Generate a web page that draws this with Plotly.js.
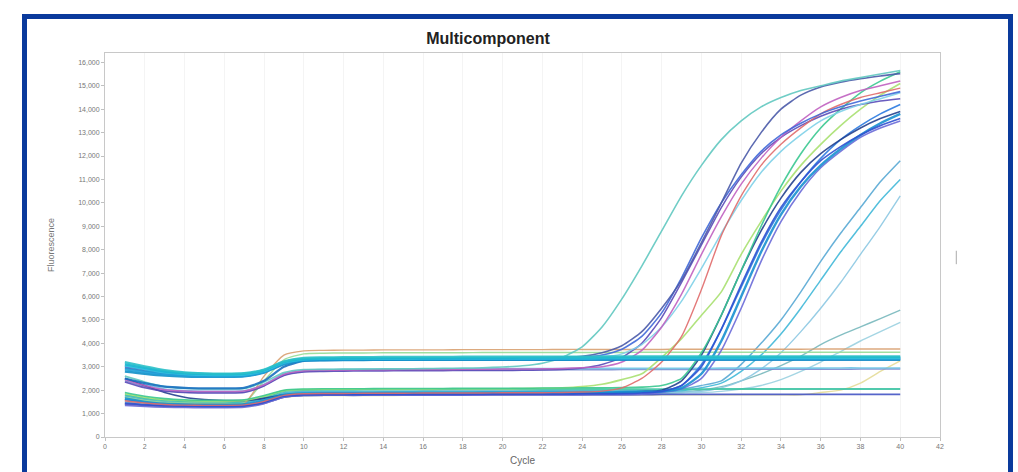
<!DOCTYPE html>
<html>
<head>
<meta charset="utf-8">
<script src="https://cdn.plot.ly/plotly-3.0.1.min.js"></script>
<style>
html,body{margin:0;padding:0;background:#fff;width:1018px;height:472px;overflow:hidden;}
#frame{position:absolute;left:22px;top:14px;width:981px;height:470px;border:5px solid #0a3a9c;box-sizing:content-box;}
#chart{position:absolute;left:0;top:0;width:1018px;height:472px;}
</style>
</head>
<body>
<div id="frame"></div>
<div id="chart"></div>
<script>
const cycles = [1,2,3,4,5,6,7,8,9,10,11,12,13,14,15,16,17,18,19,20,21,22,23,24,25,26,27,28,29,30,31,32,33,34,35,36,37,38,39,40];

// flat (non-amplifying) wells
const f1 = [3100,2950,2800,2720,2690,2680,2700,2850,3200,3330,3350,3360,3360,3370,3370,3370,3380,3380,3380,3380,3390,3390,3390,3390,3390,3400,3400,3400,3400,3400,3400,3400,3410,3410,3410,3410,3410,3410,3410,3410];
const f2 = [2900,2780,2680,2620,2600,2600,2620,2780,3150,3300,3320,3320,3330,3330,3330,3330,3340,3340,3340,3340,3340,3340,3350,3350,3350,3350,3350,3350,3350,3350,3350,3350,3350,3350,3350,3350,3350,3350,3350,3350];
const f3 = [3200,3020,2860,2760,2720,2710,2730,2880,3230,3380,3400,3410,3410,3420,3420,3420,3420,3430,3430,3430,3430,3430,3430,3430,3440,3440,3440,3440,3440,3440,3440,3440,3440,3440,3440,3440,3440,3440,3440,3440];
const f4 = [2800,2700,2620,2580,2570,2570,2590,2750,3100,3260,3280,3290,3290,3300,3300,3300,3300,3300,3300,3300,3300,3300,3300,3300,3310,3310,3310,3310,3310,3310,3310,3310,3310,3310,3310,3310,3310,3310,3310,3310];
const f5 = [3050,2900,2760,2690,2660,2650,2670,2820,3180,3320,3340,3350,3350,3350,3350,3360,3360,3360,3360,3360,3360,3360,3360,3360,3370,3370,3370,3370,3370,3370,3370,3370,3370,3370,3370,3370,3370,3370,3370,3370];
const f6 = [2500,2300,2150,2100,2080,2080,2100,2400,3000,3250,3280,3290,3290,3290,3300,3300,3300,3300,3300,3300,3300,3300,3300,3300,3300,3300,3300,3300,3300,3300,3300,3300,3300,3300,3300,3300,3300,3300,3300,3300];
const f7 = [1600,1480,1420,1400,1390,1390,1420,2600,3500,3680,3700,3710,3710,3720,3720,3720,3720,3730,3730,3730,3730,3730,3740,3740,3740,3740,3740,3740,3750,3750,3750,3750,3750,3750,3750,3760,3760,3760,3760,3760];
const f8 = [1700,1560,1480,1450,1440,1440,1460,2400,3300,3550,3580,3590,3590,3600,3600,3600,3600,3600,3610,3610,3610,3610,3610,3610,3610,3610,3620,3620,3620,3620,3620,3620,3620,3620,3620,3620,3620,3620,3620,3620];
const f9 = [2500,2250,2050,1980,1950,1950,1970,2250,2700,2850,2880,2890,2900,2900,2900,2910,2910,2910,2910,2920,2920,2920,2920,2920,2930,2930,2930,2930,2930,2930,2940,2940,2940,2940,2940,2940,2950,2950,2950,2950];
const f10 = [2400,2150,1980,1920,1900,1900,1920,2200,2650,2800,2830,2840,2850,2850,2850,2860,2860,2860,2860,2860,2870,2870,2870,2870,2870,2880,2880,2880,2880,2880,2880,2890,2890,2890,2890,2890,2890,2900,2900,2900];
const f11 = [1800,1650,1560,1520,1500,1500,1520,1700,1950,2000,2010,2010,2020,2020,2020,2020,2030,2030,2030,2030,2030,2030,2040,2040,2040,2040,2040,2040,2040,2040,2050,2050,2050,2050,2050,2050,2050,2050,2050,2050];
const f12 = [1400,1350,1320,1300,1300,1300,1320,1450,1700,1780,1790,1790,1800,1800,1800,1800,1800,1800,1810,1810,1810,1810,1810,1810,1810,1810,1810,1820,1820,1820,1820,1820,1820,1820,1820,1820,1820,1820,1820,1820];

// amplifying wells
const wA = [2600,2350,2150,2080,2050,2050,2070,2350,2750,2880,2890,2900,2900,2910,2910,2920,2930,2940,2960,2990,3040,3150,3400,3850,4700,5900,7300,8800,10300,11600,12700,13500,14100,14500,14800,15000,15200,15350,15500,15650];
const wB = [2950,2820,2700,2640,2610,2600,2620,2780,3150,3300,3310,3310,3320,3320,3320,3330,3330,3330,3340,3350,3360,3380,3410,3450,3600,3900,4500,5500,6700,8300,10000,11700,13000,14000,14600,14950,15150,15300,15420,15520];
const wC1 = [3000,2870,2750,2680,2650,2640,2660,2800,3150,3300,3310,3320,3320,3320,3330,3330,3330,3340,3340,3340,3350,3360,3370,3400,3500,3750,4300,5300,6800,8500,10000,11200,12200,12900,13400,13800,14100,14350,14550,14750];
const wC2 = [2450,2200,2020,1960,1940,1940,1960,2230,2680,2830,2850,2860,2870,2870,2880,2880,2880,2890,2890,2900,2900,2910,2930,2960,3000,3200,3700,4700,6100,7800,9400,10800,11900,12800,13500,14100,14500,14800,15000,15200];
const wC3 = [1550,1450,1390,1360,1350,1350,1370,1520,1780,1850,1860,1860,1870,1870,1870,1880,1880,1880,1880,1890,1890,1890,1900,1920,1960,2100,2500,3200,4300,6300,8600,10300,11600,12500,13200,13800,14200,14500,14700,14900];
const wC4 = [3150,2980,2830,2740,2700,2690,2710,2860,3210,3350,3360,3370,3370,3380,3380,3380,3380,3390,3390,3390,3390,3400,3400,3410,3420,3550,3950,4700,5800,7200,8700,10100,11300,12200,12900,13500,13900,14200,14450,14700];
const wC5 = [2350,2100,1950,1900,1880,1880,1900,2180,2630,2780,2800,2810,2820,2820,2830,2830,2830,2840,2840,2840,2850,2860,2880,2950,3100,3400,4000,5100,6600,8200,9800,11100,12100,12800,13300,13700,14000,14200,14350,14450];
const wD1 = [1450,1380,1340,1320,1310,1310,1330,1480,1740,1800,1810,1810,1810,1820,1820,1820,1820,1820,1830,1830,1830,1830,1830,1840,1840,1850,1880,1950,2200,3000,4600,6500,8300,9800,10900,11800,12400,12900,13300,13600];
const wD2 = [1650,1500,1420,1390,1380,1380,1400,1560,1800,1860,1870,1870,1870,1880,1880,1880,1880,1880,1890,1890,1890,1890,1890,1900,1900,1910,1930,1950,2100,2700,4100,6000,7900,9500,10700,11600,12300,12900,13400,13800];
const wD3 = [2500,2200,1900,1700,1600,1560,1560,1650,1800,1840,1850,1850,1850,1860,1860,1860,1860,1860,1870,1870,1870,1870,1880,1880,1890,1900,1940,2000,2400,3500,5200,7100,8800,10200,11300,12100,12700,13200,13600,13900];
const wD4 = [1850,1700,1600,1560,1540,1540,1560,1740,1980,2030,2040,2040,2050,2050,2050,2050,2060,2060,2060,2060,2070,2080,2100,2150,2250,2450,2700,3400,4200,5200,6200,7800,9200,10500,11600,12500,13300,14000,14600,15100];
const wD5 = [1900,1740,1640,1590,1570,1570,1590,1770,2000,2050,2060,2060,2060,2070,2070,2070,2070,2080,2080,2080,2080,2090,2090,2100,2100,2110,2130,2200,2500,3600,5200,7100,9000,10700,12100,13200,14000,14700,15200,15600];
const wD6 = [1350,1300,1270,1260,1250,1250,1270,1420,1700,1770,1780,1780,1780,1790,1790,1790,1790,1790,1790,1800,1800,1800,1800,1800,1810,1810,1830,1900,2050,2500,3700,5500,7500,9200,10500,11500,12200,12800,13200,13500];
const wD7 = [1600,1480,1400,1370,1360,1360,1380,1540,1790,1850,1860,1860,1860,1870,1870,1870,1870,1870,1880,1880,1880,1880,1880,1890,1890,1900,1920,1950,2200,3100,4600,6400,8200,9700,10900,11900,12700,13300,13800,14200];
const wE1 = [1700,1560,1480,1450,1440,1440,1460,1620,1860,1910,1920,1920,1920,1920,1930,1930,1930,1930,1930,1930,1940,1940,1940,1940,1940,1940,1940,1940,1980,2100,2300,2800,3500,4400,5500,6700,7900,9000,10100,11000];
const wE2 = [1750,1600,1510,1480,1470,1470,1490,1650,1890,1940,1950,1950,1950,1950,1950,1960,1960,1960,1960,1960,1960,1970,1970,1970,1970,1970,1980,1990,2050,2200,2400,3100,4000,5000,6200,7500,8700,9800,10900,11800];
const wE3 = [1550,1450,1390,1370,1360,1360,1380,1530,1780,1840,1850,1850,1850,1860,1860,1860,1860,1870,1870,1870,1870,1880,1880,1880,1880,1890,1890,1900,1920,1950,2100,2400,2900,3600,4500,5500,6600,7800,9000,10300];
const wF1 = [1500,1420,1370,1350,1340,1340,1360,1500,1760,1830,1840,1840,1840,1850,1850,1850,1850,1850,1860,1860,1860,1860,1860,1870,1870,1870,1880,1890,1920,2000,2150,2400,2700,3050,3450,3950,4350,4700,5060,5420];
const wF2 = [1450,1380,1340,1320,1310,1310,1330,1470,1730,1800,1810,1810,1810,1820,1820,1820,1820,1820,1830,1830,1830,1830,1840,1840,1840,1850,1850,1860,1880,1900,1950,2050,2200,2450,2800,3200,3650,4100,4500,4900];
const wG = [1380,1320,1290,1280,1270,1270,1290,1430,1690,1760,1770,1770,1770,1770,1780,1780,1780,1780,1780,1780,1790,1790,1790,1790,1790,1790,1790,1800,1800,1800,1800,1800,1800,1800,1800,1900,2000,2300,2800,3250];

const yTicks = [0,1000,2000,3000,4000,5000,6000,7000,8000,9000,10000,11000,12000,13000,14000,15000,16000];
const xTicks = [0,2,4,6,8,10,12,14,16,18,20,22,24,26,28,30,32,34,36,38,40,42];

const wells = [
  [wG,'#e4dc98',1.4],[wF2,'#9ad0e0',1.4],[wF1,'#78b8bc',1.4],
  [wE3,'#8cc8e2',1.4],[wE2,'#58a8d4',1.5],[wE1,'#40b8d8',1.5],
  [f12,'#4454c4',1.8],[f11,'#3ec4a4',1.8],[f10,'#7a8ad0',1.5],[f9,'#6fc4e4',1.6],
  [f8,'#96dc96',1.4],[f7,'#d8a070',1.4],
  [wD6,'#6a6ad8',1.6],[wD7,'#2a7ae0',1.6],[wD3,'#24408e',1.6],[wD2,'#1890d0',2.4],[wD1,'#3050d0',1.7],
  [wD4,'#a8e070',1.6],[wD5,'#3ac890',1.6],
  [wC5,'#5a4ab8',1.5],[wC4,'#7ed0e8',1.5],[wC3,'#e06a6a',1.4],[wC2,'#c060c0',1.5],[wC1,'#3f68d8',1.6],
  [wB,'#4a5aa8',1.6],[wA,'#60c8c0',1.6],
  [f6,'#1a70c0',2.2],[f4,'#0f8fc8',2.4],[f2,'#1fa0d8',2.6],[f5,'#34c4e0',2.4],[f1,'#19b5d0',2.4],[f3,'#2bc0c8',2.2]
];

const traces = wells.map(w => ({
  x: cycles, y: w[0], type: 'scatter', mode: 'lines',
  line: {color: w[1], width: w[2], shape: 'spline', smoothing: 0.6},
  opacity: 0.9, hoverinfo: 'skip', showlegend: false
}));

const layout = {
  width: 1018, height: 472,
  margin: {l: 105, r: 78, t: 53, b: 35},
  paper_bgcolor: 'rgba(0,0,0,0)', plot_bgcolor: '#fff',
  title: {text: '<b>Multicomponent</b>', x: 488/1018, xref: 'container', xanchor: 'center',
          y: 1 - 38/472, yref: 'container', yanchor: 'middle',
          font: {family: 'Liberation Sans, Arial, sans-serif', size: 16, color: '#222'}},
  xaxis: {range: [0, 42], tickvals: xTicks, ticktext: xTicks.map(String),
          showline: true, linecolor: '#c8c8c8', linewidth: 1, mirror: true,
          ticks: 'outside', ticklen: 3, tickcolor: '#c0c0c0',
          showgrid: true, gridcolor: '#f4f4f4', zeroline: false,
          tickfont: {family: 'Liberation Sans, Arial, sans-serif', size: 7, color: '#777'},
          title: {text: 'Cycle', standoff: 7, font: {family: 'Liberation Sans, Arial, sans-serif', size: 10, color: '#666'}}},
  yaxis: {range: [0, 16400], tickvals: yTicks, tickformat: ',d',
          showline: true, linecolor: '#c8c8c8', linewidth: 1, mirror: true,
          ticks: 'outside', ticklen: 3, tickcolor: '#c0c0c0',
          showgrid: false, zeroline: false,
          tickfont: {family: 'Liberation Sans, Arial, sans-serif', size: 7, color: '#777'},
          title: {text: 'Fluorescence', standoff: 22, font: {family: 'Liberation Sans, Arial, sans-serif', size: 9, color: '#777'}}},
  shapes: [{type: 'line', xref: 'paper', yref: 'paper', x0: 1.0195, x1: 1.0195, y0: 0.45, y1: 0.485,
            line: {color: '#aaa', width: 1}}]
};

Plotly.newPlot('chart', traces, layout, {staticPlot: true, displayModeBar: false});
</script>
</body>
</html>
